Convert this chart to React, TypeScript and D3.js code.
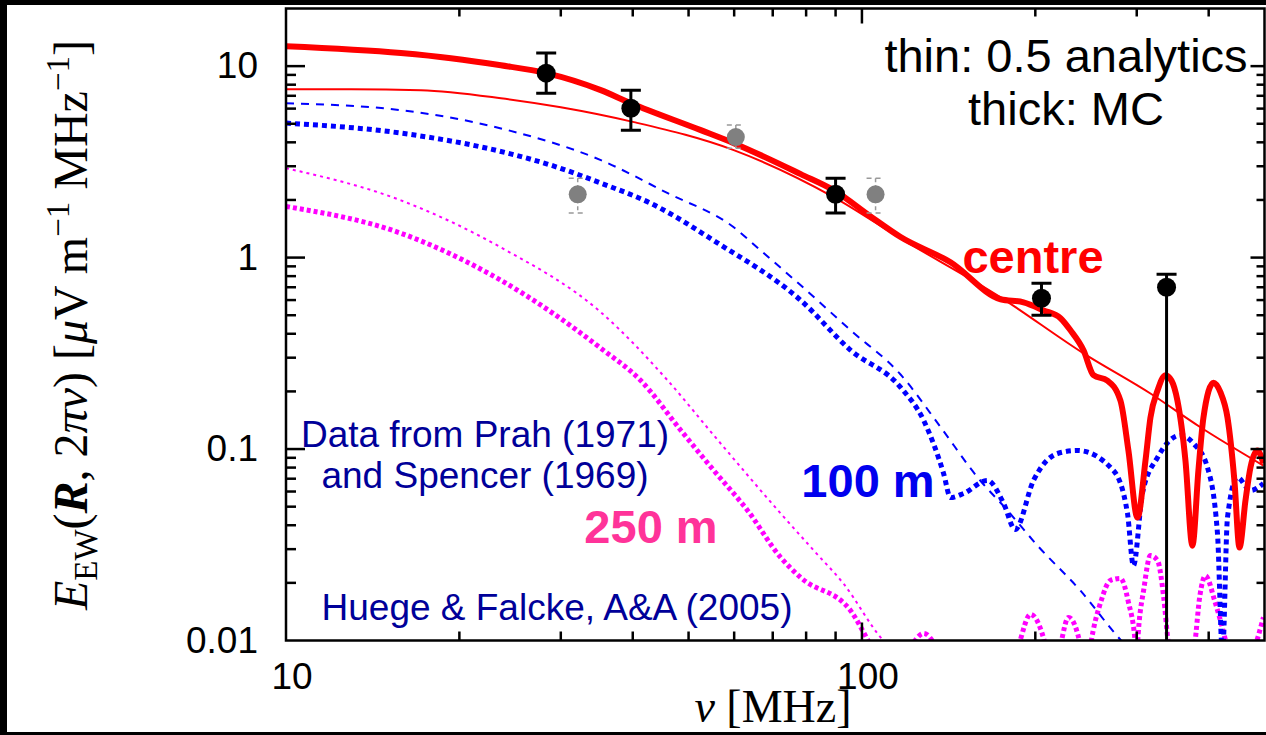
import React, { useEffect, useRef } from 'react';
import * as d3 from 'd3';

// [frequency MHz, field strength uV/m/MHz]
const centreMC: [number, number][] = [
  [10, 12.7], [15.83, 11.7], [19.33, 11.0], [23.61, 10.1], [28.3, 9.19], [35.2, 7.49],
  [39.7, 6.4], [52.5, 4.63], [59.9, 3.96], [78.3, 2.73], [89.3, 2.25], [103.5, 1.64],
  [116.7, 1.28], [142.5, 0.945], [174.1, 0.606], [190.8, 0.584], [206.7, 0.53], [221.2, 0.482],
  [230.2, 0.417], [242.5, 0.328], [252.4, 0.243], [266.8, 0.228], [281.1, 0.179], [290.2, 0.0983],
  [300.9, 0.0439], [310.7, 0.0872], [316.9, 0.146], [326.0, 0.202], [336.5, 0.243], [344.7, 0.228],
  [353.0, 0.179], [364.5, 0.0872], [374.8, 0.0313], [383.9, 0.0773], [391.7, 0.146], [407.7, 0.222],
  [419.2, 0.198], [431.2, 0.146], [443.3, 0.0686], [452.4, 0.0306], [463.4, 0.0539], [472.7, 0.0801],
  [485.9, 0.0983], [497.8, 0.0841],
];

const centreAnalytic: [number, number][] = [
  [10, 7.58], [12.97, 7.58], [17.15, 7.49], [23.61, 6.8], [30.0, 6.1], [40.2, 5.1],
  [59.9, 3.64], [89.3, 2.07], [116.7, 1.26], [174.1, 0.62], [242.5, 0.316], [316.9, 0.195],
  [387.0, 0.13], [497.8, 0.082],
];

const m100MC: [number, number][] = [
  [10, 5.04], [15.83, 4.47], [24.28, 3.51], [28.83, 3.04], [35.21, 2.45], [42.99, 1.92],
  [56.2, 1.19], [78.3, 0.598], [95.6, 0.328], [116.7, 0.21], [128.0, 0.141], [138.6, 0.0746],
  [142.5, 0.0558], [150.1, 0.0586], [165.2, 0.0686], [176.2, 0.052], [184.5, 0.038], [198.6, 0.0686],
  [218.6, 0.0948], [236.7, 0.0983], [273.3, 0.0773], [289.1, 0.0461], [296.1, 0.0246], [306.9, 0.0586],
  [326.0, 0.0904], [357.3, 0.118], [376.4, 0.107], [398.1, 0.0801], [414.3, 0.0362], [422.7, 0.0085],
  [431.2, 0.0439], [448.6, 0.0711], [472.7, 0.0608], [497.8, 0.0661],
];

const m100Analytic: [number, number][] = [
  [10, 6.4], [15.83, 5.89], [24.28, 4.63], [35.21, 3.23], [46.0, 2.17], [59.9, 1.44],
  [66.7, 1.09], [78.3, 0.716], [95.6, 0.417], [116.7, 0.245], [137, 0.13], [158.8, 0.0711],
  [178.9, 0.0478], [201.8, 0.0313], [239.6, 0.0182], [281.1, 0.0101], [292.6, 0.0089],
];

const m250MC: [number, number][] = [
  [10, 1.85], [15.83, 1.34], [23.61, 0.761], [35.21, 0.336], [41.3, 0.228], [48.5, 0.125],
  [55.3, 0.0773], [63.3, 0.0478], [72.3, 0.0271], [78.3, 0.0213], [95.6, 0.0143], [102.3, 0.0101],
  [105.6, 0.0085], [112, 0.006], [121.5, 0.0093], [128, 0.0109], [134.3, 0.0093], [142, 0.006],
  [175, 0.005], [187, 0.0094], [196.2, 0.0137], [208.4, 0.0094], [215, 0.006], [221.2, 0.0094],
  [228.4, 0.0132], [239.6, 0.0094], [244.5, 0.006], [249.4, 0.0094], [260, 0.016], [270.1, 0.0206],
  [281.1, 0.0211], [290, 0.016], [298.5, 0.0094], [299.7, 0.006], [300.9, 0.0094], [309, 0.019],
  [316.9, 0.0278], [326, 0.0262], [334, 0.017], [340.6, 0.0094], [355, 0.005], [378, 0.0094],
  [386, 0.017], [394.9, 0.0218], [410, 0.016], [430, 0.0094], [450, 0.005], [482.3, 0.0094],
  [497.8, 0.0132],
];

const m250Analytic: [number, number][] = [
  [10, 2.93], [15.83, 1.99], [23.61, 1.13], [35.21, 0.518], [46.0, 0.228], [55.3, 0.118],
  [72.3, 0.046], [82.5, 0.0295], [92.9, 0.0198], [108.6, 0.0101], [115, 0.0085],
];

// measurements (Prah 1971 black, Spencer 1969 grey)
const blackFreq = [28.3, 39.7, 90, 205, 338];
const blackVal = [9.19, 6.03, 2.14, 0.613, 0.7];
const blackHi = [11.7, 7.49, 2.6, 0.734, 0.818];
const blackLo = [7.22, 4.63, 1.71, 0.5, 0.001];

const greyFreq = [32.1, 60.4, 105.6];
const greyVal = [2.14, 4.26, 2.14];
const greyHi = [2.6, 4.92, 2.6];
const greyLo = [1.71, 3.73, 1.71];

const xTickVals = [10, 100];
const xTickLabels = ['10', '100'];
const yTickVals = [0.01, 0.1, 1, 10];
const yTickLabels = ['0.01', '0.1', '1', '10'];

const W = 1266;
const H = 735;
const L = 286, R = 1264.5, T = 8.5, B = 640.5;
const SANS = 'Liberation Sans, Arial, Helvetica, sans-serif';
const SERIF = 'Liberation Serif, Times New Roman, serif';

function App() {
  const ref = useRef<SVGSVGElement>(null);

  useEffect(() => {
    const svg = d3.select(ref.current);
    svg.selectAll('*').remove();

    const x = d3.scaleLog().domain([10, 500]).range([L, R]);
    const y = d3.scaleLog().domain([0.01, 20]).range([B, T]);

    svg.append('rect').attr('width', W).attr('height', H).attr('fill', '#fff');

    svg.append('defs').append('clipPath').attr('id', 'plotclip')
      .append('rect').attr('x', L).attr('y', T).attr('width', R - L).attr('height', B - T);

    const plot = svg.append('g').attr('clip-path', 'url(#plotclip)');

    const line = d3.line<[number, number]>()
      .x(d => x(d[0]))
      .y(d => y(d[1]))
      .curve(d3.curveMonotoneX);

    const curves = [
      { data: m250Analytic, color: '#ff00ff', width: 2, dash: '3 4' },
      { data: m250MC, color: '#ff00ff', width: 5, dash: '4 3' },
      { data: m100Analytic, color: '#0000ff', width: 2, dash: '8 7' },
      { data: m100MC, color: '#0000ff', width: 5, dash: '5 4' },
      { data: centreAnalytic, color: '#ff0000', width: 2, dash: null },
      { data: centreMC, color: '#ff0000', width: 6, dash: null },
    ];

    curves.forEach(c => {
      plot.append('path')
        .attr('d', line(c.data))
        .attr('fill', 'none')
        .attr('stroke', c.color)
        .attr('stroke-width', c.width)
        .attr('stroke-dasharray', c.dash)
        .attr('stroke-linejoin', 'round');
    });

    // grey points, dashed error bars
    greyFreq.forEach((f, i) => {
      const cx = x(f);
      plot.append('line')
        .attr('x1', cx).attr('x2', cx).attr('y1', y(greyHi[i])).attr('y2', y(greyLo[i]))
        .attr('stroke', '#999').attr('stroke-width', 1.5).attr('stroke-dasharray', '4 3');
      [greyHi[i], greyLo[i]].forEach(v => {
        plot.append('line')
          .attr('x1', cx - 9).attr('x2', cx + 9).attr('y1', y(v)).attr('y2', y(v))
          .attr('stroke', '#999').attr('stroke-width', 1.5).attr('stroke-dasharray', '5 4');
      });
      plot.append('circle').attr('cx', cx).attr('cy', y(greyVal[i])).attr('r', 9).attr('fill', '#808080');
    });

    // black points
    blackFreq.forEach((f, i) => {
      const cx = x(f);
      plot.append('line')
        .attr('x1', cx).attr('x2', cx).attr('y1', y(blackHi[i])).attr('y2', y(blackLo[i]))
        .attr('stroke', '#000').attr('stroke-width', 3);
      [blackHi[i], blackLo[i]].forEach(v => {
        plot.append('line')
          .attr('x1', cx - 10).attr('x2', cx + 10).attr('y1', y(v)).attr('y2', y(v))
          .attr('stroke', '#000').attr('stroke-width', 3);
      });
      plot.append('circle').attr('cx', cx).attr('cy', y(blackVal[i])).attr('r', 9.5).attr('fill', '#000');
    });

    // frame and ticks
    svg.append('rect')
      .attr('x', L).attr('y', T).attr('width', R - L).attr('height', B - T)
      .attr('fill', 'none').attr('stroke', '#000').attr('stroke-width', 2.5);

    const isMajor = (t: number) => Math.abs(Math.log10(t) - Math.round(Math.log10(t))) < 1e-9;
    const ticks = svg.append('g').attr('stroke', '#000').attr('stroke-width', 2.5);

    x.ticks().filter(t => t > 10 && t < 500).forEach(t => {
      const px = x(t);
      const major = isMajor(t);
      ticks.append('line').attr('x1', px).attr('x2', px).attr('y1', B).attr('y2', B - (major ? 18 : 9));
      ticks.append('line').attr('x1', px).attr('x2', px).attr('y1', T).attr('y2', T + (major ? 15 : 8));
    });
    y.ticks().filter(t => t > 0.01 && t < 20).forEach(t => {
      const py = y(t);
      const major = isMajor(t);
      ticks.append('line').attr('x1', L).attr('x2', L + (major ? 19 : 10)).attr('y1', py).attr('y2', py);
      ticks.append('line').attr('x1', R).attr('x2', R - (major ? 14 : 8)).attr('y1', py).attr('y2', py);
    });

    // tick labels
    xTickVals.forEach((t, i) => {
      svg.append('text').attr('x', x(t) + 6).attr('y', 689)
        .attr('text-anchor', 'middle').attr('font-family', SANS).attr('font-size', 37)
        .text(xTickLabels[i]);
    });
    yTickVals.forEach((t, i) => {
      svg.append('text').attr('x', 258).attr('y', y(t) + 12)
        .attr('text-anchor', 'end').attr('font-family', SANS).attr('font-size', 37)
        .text(yTickLabels[i]);
    });

    // annotations
    const note = (tx: number, ty: number, s: string, size: number, color: string, bold = false) =>
      svg.append('text').attr('x', tx).attr('y', ty).attr('text-anchor', 'middle')
        .attr('font-family', SANS).attr('font-size', size).attr('fill', color)
        .attr('font-weight', bold ? 'bold' : 'normal').text(s);

    note(1066, 72, 'thin: 0.5 analytics', 47, '#000');
    note(1066, 125, 'thick: MC', 47, '#000');
    note(1033, 273, 'centre', 47, '#ff0000', true);
    note(868, 497, '100 m', 47, '#0000ee', true);
    note(651, 543, '250 m', 47, '#ff3399', true);
    note(485, 447, 'Data from Prah (1971)', 37, '#000099');
    note(485, 488, 'and Spencer (1969)', 37, '#000099');
    note(557, 620, 'Huege & Falcke, A&A (2005)', 37, '#000099');

    // axis titles
    const xt = svg.append('text').attr('x', 773).attr('y', 722).attr('text-anchor', 'middle')
      .attr('font-family', SERIF).attr('font-size', 46);
    xt.append('tspan').attr('font-style', 'italic').text('ν');
    xt.append('tspan').text(' [MHz]');

    const yt = svg.append('text')
      .attr('transform', 'translate(87,325) rotate(-90)')
      .attr('text-anchor', 'middle').attr('font-family', SERIF).attr('font-size', 48);
    yt.append('tspan').attr('font-style', 'italic').text('E');
    yt.append('tspan').attr('font-size', 33).attr('dy', 10).text('EW');
    yt.append('tspan').attr('dy', -10).text('(');
    yt.append('tspan').attr('font-style', 'italic').attr('font-weight', 'bold').text('R');
    yt.append('tspan').text(', 2');
    yt.append('tspan').attr('font-style', 'italic').text('πν');
    yt.append('tspan').text(') [');
    yt.append('tspan').attr('font-style', 'italic').text('μ');
    yt.append('tspan').text('V m');
    yt.append('tspan').attr('font-size', 33).attr('dy', -18).text('−1');
    yt.append('tspan').attr('dy', 18).text(' MHz');
    yt.append('tspan').attr('font-size', 33).attr('dy', -18).text('−1');
    yt.append('tspan').attr('dy', 18).text(']');

    // black picture border
    svg.append('rect').attr('x', 0).attr('y', 0).attr('width', W).attr('height', 5).attr('fill', '#000');
    svg.append('rect').attr('x', 0).attr('y', 0).attr('width', 7).attr('height', H).attr('fill', '#000');
    svg.append('rect').attr('x', 0).attr('y', 732).attr('width', W).attr('height', 3).attr('fill', '#000');
  }, []);

  return (
    <svg
      ref={ref}
      width={W}
      height={H}
      style={{ position: 'absolute', left: 0, top: 0, display: 'block' }}
    />
  );
}

export default App;
